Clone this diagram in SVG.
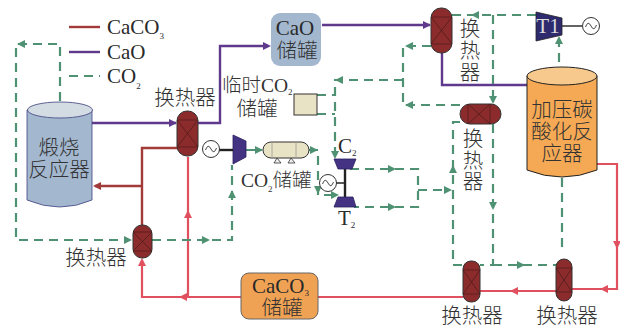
<svg xmlns="http://www.w3.org/2000/svg" width="620" height="328" viewBox="0 0 620 328">
<style>
text{font-family:"Liberation Serif","Noto Sans CJK SC",serif;fill:#2a2a2a;font-size:21px}
.z{font-weight:300;fill:#333;font-size:20.5px}
.n{font-weight:300;fill:#333;font-size:19.5px}
.s{font-size:9px}
.c{text-anchor:middle}
.f{fill:none}
.r{stroke:#a33a3a;stroke-width:2.4}
.p{stroke:#5f3a8c;stroke-width:2.4}
.l{stroke:#e0505f;stroke-width:2.2}
.g{stroke:#4f9273;stroke-width:2.2;stroke-dasharray:9 6}
.hx{fill:#8c2b2b;stroke:#333;stroke-width:1}
.xl{fill:none;stroke:#4a1a1a;stroke-width:.7}
.gen{fill:#fff;stroke:#333;stroke-width:1}
.sh{stroke:#222;stroke-width:2.4;fill:none}
.tb{fill:#443283;stroke:#2a2060;stroke-width:.8}
</style>
<defs>
<path id="ag" d="M-5-4L3 0L-5 4Z" fill="#4f9273"/>
<path id="ar" d="M-5-4L3 0L-5 4Z" fill="#a33a3a"/>
<path id="al" d="M-5-4L3 0L-5 4Z" fill="#e0505f"/>
<path id="ap" d="M-5-4L3 0L-5 4Z" fill="#5f3a8c"/>
<g id="gn"><circle r="8.5" class="gen"/><path d="M-5.5 1Q-3-6 0 0T5.5-1" fill="none" stroke="#333" stroke-width=".9"/></g>
</defs>
<rect width="620" height="328" fill="#fff"/>
<g id="connectors">
<path class="f r" d="M69 27H100"/>
<path class="f p" d="M69 52H100"/>
<path class="f g" d="M69 76H100"/>
<path class="f g" d="M60 101V44H16V240H128"/>
<use href="#ag" transform="translate(20 44) rotate(180)"/>
<use href="#ag" transform="translate(129 240)"/>
<path class="f p" d="M92 123H176"/>
<use href="#ap" transform="translate(174 123)"/>
<path class="f p" d="M198 123H220V46H268"/>
<use href="#ap" transform="translate(268 46)"/>
<path class="f r" d="M178 148H142V225M142 186H95"/>
<use href="#ar" transform="translate(96 186) rotate(180)"/>
<path class="f l" d="M188 157V297"/>
<use href="#al" transform="translate(188 213) rotate(-90)"/>
<path class="f l" d="M142 260V297H241"/>
<use href="#al" transform="translate(142 261) rotate(-90)"/>
<use href="#al" transform="translate(182 297) rotate(180)"/>
<path class="f g" d="M152 240H232V165"/>
<use href="#ag" transform="translate(207 240)"/>
<use href="#ag" transform="translate(232 193) rotate(-90)"/>
<path class="f p" d="M322 25H430"/>
<use href="#ap" transform="translate(428 25)"/>
<path class="f p" d="M442 53V85H527"/>
<path class="f g" d="M536 15H452"/>
<use href="#ag" transform="translate(474 15) rotate(180)"/>
<path class="f g" d="M493 15V104"/>
<use href="#ag" transform="translate(493 101) rotate(90)"/>
<path class="f g" d="M431 46H403V105H460"/>
<use href="#ag" transform="translate(408 46) rotate(180)"/>
<use href="#ag" transform="translate(408 105) rotate(180)"/>
<path class="f g" d="M403 80H335V158"/>
<use href="#ag" transform="translate(338 80) rotate(180)"/>
<path class="f g" d="M317 95H335"/>
<path class="f g" d="M317 114H335"/>
<use href="#ag" transform="translate(335 156) rotate(90)"/>
<path class="f g" d="M246 150H262"/>
<use href="#ag" transform="translate(260 150)"/>
<path class="f g" d="M309 150H318V195H335"/>
<use href="#ag" transform="translate(315 150)"/>
<use href="#ag" transform="translate(318 191) rotate(90)"/>
<use href="#ag" transform="translate(336 195)"/>
<path class="f g" d="M350 169H418V207H354"/>
<use href="#ag" transform="translate(393 169)"/>
<use href="#ag" transform="translate(393 207)"/>
<path class="f g" d="M418 190H450"/>
<use href="#ag" transform="translate(449 190)"/>
<path class="f g" d="M460 122H453V265H463"/>
<use href="#ag" transform="translate(453 168) rotate(-90)"/>
<path class="f g" d="M493 124V265H480M493 265H556"/>
<use href="#ag" transform="translate(493 207) rotate(90)"/>
<use href="#ag" transform="translate(522 265)"/>
<path class="f g" d="M562 178V252"/>
<path class="f g" d="M559 62V40"/>
<use href="#ag" transform="translate(559 39) rotate(-90)"/>
<path class="f l" d="M597 164H617V289H572"/>
<use href="#al" transform="translate(617 246) rotate(90)"/>
<use href="#al" transform="translate(603 289) rotate(180)"/>
<path class="f l" d="M556 291H480"/>
<use href="#al" transform="translate(513 291) rotate(180)"/>
<path class="f l" d="M463 297H318"/>
</g>
<g id="legend">
<text x="107" y="34">CaCO<tspan class="s" dy="5">3</tspan></text>
<text x="107" y="59">CaO</text>
<text x="107" y="83">CO<tspan class="s" dy="6">2</tspan></text>
</g>
<g id="calciner">
<path d="M27 110V200Q60 214 92 200V110Z" fill="#a3b8cf" stroke="#3f3f80" stroke-width=".8"/>
<ellipse cx="60" cy="110" rx="32.500" ry="8" fill="#d3dce2" stroke="#3f3f80" stroke-width=".8"/>
<text class="c z" x="59" y="155">煅烧</text>
<text class="c z" x="59" y="177">反应器</text>
</g>
<g id="hx-top-left">
<rect x="177" y="111" width="21" height="45" rx="10" class="hx"/>
<path d="M177 120H198M177 147H198M177 120L198 147M198 120L177 147" class="xl"/>
<text class="c z" x="185" y="105">换热器</text>
</g>
<g id="hx-bottom-left">
<rect x="133" y="225" width="19" height="33" rx="9" class="hx"/>
<path d="M133 232H152M133 251H152M133 232L152 251M152 232L133 251" class="xl"/>
<text class="c z" x="96" y="265">换热器</text>
</g>
<g id="cao-tank">
<rect x="271" y="13" width="50" height="53" rx="9" fill="#a3b8cf"/>
<text class="c" x="295" y="35">CaO</text>
<text class="c z" x="297" y="58">储罐</text>
</g>
<g id="temp-tank">
<rect x="294" y="94" width="23" height="21" fill="#e9e3c5" stroke="#333"/>
<text class="n" x="222" y="92">临时CO<tspan class="s" dy="3">2</tspan></text>
<text class="c z" x="257" y="116">储罐</text>
</g>
<g id="compressor-left">
<path d="M233 135L246 141V157L233 164Z" class="tb"/>
<path d="M219 150H233" class="sh"/>
<use href="#gn" x="211" y="149"/>
</g>
<g id="co2-tank">
<rect x="263" y="142" width="46" height="16" rx="8" fill="#e9e3c5" stroke="#333"/>
<path d="M272 142V158M296 142V158" stroke="#999" stroke-width=".8"/>
<path d="M277 158L274 163H281ZM291 158L288 163H295Z" fill="#eee" stroke="#333" stroke-width=".8"/>
<text class="n" x="241" y="187">CO<tspan class="s" dy="5">2</tspan><tspan class="n" dy="-5">储罐</tspan></text>
</g>
<g id="turbo-c2-t2">
<path d="M345 169V197" class="sh"/>
<path d="M336 183H345" stroke="#222" stroke-width="1.5"/>
<use href="#gn" x="328" y="183"/>
<path d="M334 159H356L352 169H338Z" class="tb"/>
<path d="M338 197H353L356 207H334Z" class="tb"/>
<text x="338" y="153">C<tspan class="s" dy="3">2</tspan></text>
<text x="338" y="225">T<tspan class="s" dy="3">2</tspan></text>
</g>
<g id="hx-top-right">
<rect x="431" y="8" width="21" height="45" rx="10" class="hx"/>
<path d="M431 17H452M431 44H452M431 17L452 44M452 17L431 44" class="xl"/>
<text class="c z" x="470" y="36">换</text>
<text class="c z" x="470" y="58">热</text>
<text class="c z" x="470" y="80">器</text>
</g>
<g id="t1">
<path d="M536 12L562 18V35L536 41Z" fill="#2d2a6e" stroke="#222" stroke-width=".8"/>
<text class="c" x="548" y="33" style="fill:#ddd">T1</text>
<path d="M562 26H582" stroke="#222" stroke-width="1.4"/>
<use href="#gn" x="591" y="26"/>
</g>
<g id="reactor">
<path d="M527 76V170Q562 184 597 170V76Z" fill="#f5a954" stroke="#222"/>
<ellipse cx="562" cy="76" rx="35" ry="9" fill="#f7c98c" stroke="#222"/>
<text class="c z" x="562" y="117">加压碳</text>
<text class="c z" x="562" y="139">酸化反</text>
<text class="c z" x="562" y="161">应器</text>
</g>
<g id="hx-mid-right">
<rect x="460" y="104" width="41" height="20" rx="10" class="hx"/>
<path d="M468 104V124M490 104V124M468 104L490 124M490 104L468 124" class="xl"/>
<text class="c z" x="473" y="146">换</text>
<text class="c z" x="473" y="168">热</text>
<text class="c z" x="473" y="189">器</text>
</g>
<g id="hx-bottom-mid">
<rect x="463" y="261" width="17" height="41" rx="8" class="hx"/>
<path d="M463 270H480M463 294H480M463 270L480 294M480 270L463 294" class="xl"/>
<text class="c z" x="472" y="323">换热器</text>
</g>
<g id="hx-bottom-right">
<rect x="556" y="259" width="16" height="42" rx="8" class="hx"/>
<path d="M556 268H572M556 292H572M556 268L572 292M572 268L556 292" class="xl"/>
<text class="c z" x="567" y="323">换热器</text>
</g>
<g id="caco3-tank">
<rect x="241" y="273" width="77" height="46" rx="8" fill="#f0a254" stroke="#666"/>
<text x="252" y="293">CaCO<tspan class="s" dy="3">3</tspan></text>
<text class="c z" x="282" y="315">储罐</text>
</g>
</svg>
